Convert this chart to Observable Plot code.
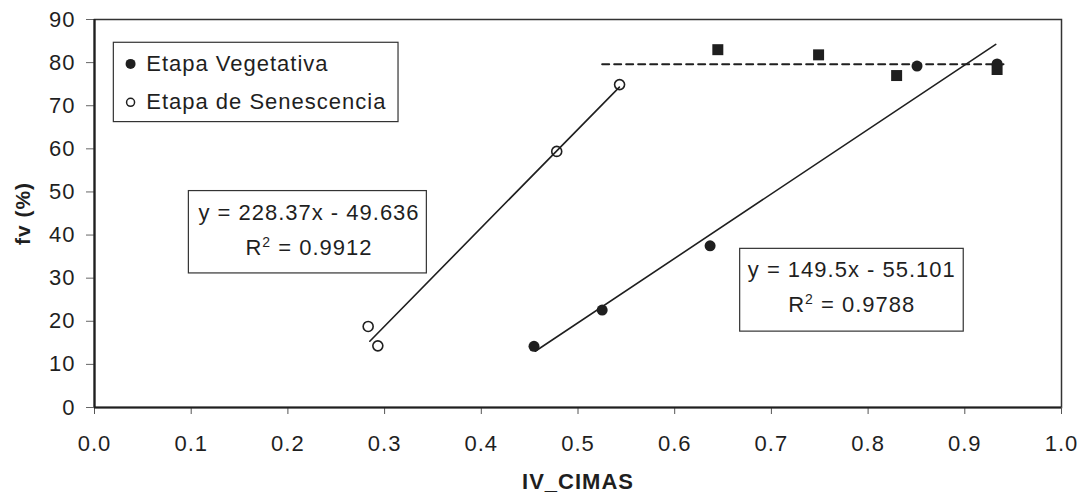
<!DOCTYPE html>
<html><head><meta charset="utf-8">
<script src="https://cdn.jsdelivr.net/npm/d3@7"></script>
<script src="https://cdn.jsdelivr.net/npm/@observablehq/plot@0.6"></script>
<style>
html,body{margin:0;padding:0;background:#fff;}
#chart svg{display:block;}
</style>
</head><body><div id="chart"></div>
<script>
// ---- data ----
const vegX = [0.4545, 0.525, 0.6366, 0.8506, 0.9334];
const vegY = [14.2, 22.6, 37.5, 79.2, 79.7];
const senX = [0.283, 0.293, 0.478, 0.543];
const senY = [18.8, 14.3, 59.4, 74.9];
const sqX = [0.6446, 0.7488, 0.8295, 0.9334];
const sqY = [83.0, 81.8, 77.0, 78.4];
const seriesNames = ["Etapa Vegetativa", "Etapa de Senescencia"];
const trendSlope = [149.5, 228.37];
const trendIntercept = [-55.101, -49.636];
const trendR2 = ["0.9788", "0.9912"];
const trendXStart = [0.4558, 0.2847];
const trendXEnd = [0.932, 0.5428];
const plateauY = 79.6;
const plateauXStart = 0.525;
const plateauXEnd = 0.94;
const xTicks = [0, 0.1, 0.2, 0.3, 0.4, 0.5, 0.6, 0.7, 0.8, 0.9, 1.0];
const yTicks = [0, 10, 20, 30, 40, 50, 60, 70, 80, 90];
const xLabel = "IV_CIMAS";
const yLabel = "fv (%)";

// ---- annotation placement (data units) ----
const eqBoxX1 = [0.6677, 0.0976], eqBoxX2 = [0.8989, 0.3437];
const eqBoxY1 = [17.6, 31.1], eqBoxY2 = [36.8, 50.2];
const eqTextX = [0.7831, 0.2218], eqLine1Y = [31.9, 45.1], eqLine2Y = [23.7, 37.0];
const legBox = {x1: 0.020, x2: 0.3144, y1: 66.2, y2: 84.6};
const legMarkX = 0.0373, legTextX = 0.0535, legY = [79.7, 70.8];

// ---- build tables ----
const veg = vegX.map((x, i) => ({x, y: vegY[i]}));
const sen = senX.map((x, i) => ({x, y: senY[i]}));
const sq = sqX.map((x, i) => ({x, y: sqY[i]}));
const trends = trendSlope.map((m, i) => [
  {s: i, x: trendXStart[i], y: m * trendXStart[i] + trendIntercept[i]},
  {s: i, x: trendXEnd[i], y: m * trendXEnd[i] + trendIntercept[i]}
]).flat();
const plateau = [{x: plateauXStart, y: plateauY}, {x: plateauXEnd, y: plateauY}];
const eqs = trendSlope.map((m, i) => ({
  x1: eqBoxX1[i], x2: eqBoxX2[i], y1: eqBoxY1[i], y2: eqBoxY2[i],
  tx: eqTextX[i], l1: eqLine1Y[i], l2: eqLine2Y[i],
  t1: `y = ${m}x - ${Math.abs(trendIntercept[i])}`,
  t2: `R2 = ${trendR2[i]}`
}));

const ink = "#1f1f1f";
const FS = 22;

const chart = Plot.plot({
  width: 1087,
  height: 502,
  marginLeft: 94,
  marginRight: 26,
  marginTop: 19,
  marginBottom: 95,
  style: {fontFamily: "'Liberation Sans', Arial, sans-serif", background: "#fff", color: ink, letterSpacing: "1px"},
  x: {domain: [0, 1]},
  y: {domain: [0, 90]},
  marks: [
    Plot.frame({stroke: "#333", strokeWidth: 1.5}),
    Plot.axisX({ticks: xTicks, tickFormat: d3.format(".1f"), tickSize: 7, tickPadding: 21, fontSize: FS, stroke: "#555", fill: ink, label: null}),
    Plot.axisY({ticks: yTicks, tickSize: 8, tickPadding: 11, fontSize: FS, stroke: "#666", fill: ink, label: null}),
    Plot.ruleX([0], {stroke: ink, strokeWidth: 2.2}),
    Plot.ruleY([0], {stroke: ink, strokeWidth: 2.2}),
    // equation boxes
    Plot.rect(eqs, {x1: "x1", x2: "x2", y1: "y1", y2: "y2", fill: "#fff", stroke: "#333", strokeWidth: 1.2}),
    Plot.text(eqs, {x: "tx", y: "l1", text: "t1", fontSize: FS, fill: ink, lineAnchor: "middle"}),
    Plot.text(eqs, {x: "tx", y: "l2", text: "t2", fontSize: FS, fill: ink, lineAnchor: "middle", className: "r2"}),
    // legend
    Plot.rect([legBox], {x1: "x1", x2: "x2", y1: "y1", y2: "y2", fill: "#fff", stroke: "#333", strokeWidth: 1.2}),
    Plot.dot([0], {x: legMarkX, y: legY[0], r: 5, fill: ink, stroke: "none"}),
    Plot.dot([0], {x: legMarkX, y: legY[1], r: 4, fill: "none", stroke: ink, strokeWidth: 1.5}),
    Plot.text(seriesNames, {x: legTextX, y: (d, i) => legY[i], text: d => d, textAnchor: "start", lineAnchor: "middle", fontSize: FS, fill: ink}),
    // trend lines
    Plot.line(trends, {x: "x", y: "y", z: "s", stroke: ink, strokeWidth: 1.6}),
    Plot.line(plateau, {x: "x", y: "y", stroke: ink, strokeWidth: 2, strokeDasharray: "7,5"}),
    // points
    Plot.dot(sq, {x: "x", y: "y", symbol: "square", r: 6.2, fill: ink, stroke: "none"}),
    Plot.dot(veg, {x: "x", y: "y", r: 5.5, fill: ink, stroke: "none"}),
    Plot.dot(sen, {x: "x", y: "y", r: 5, fill: "none", stroke: ink, strokeWidth: 1.6}),
    // axis titles
    Plot.text([xLabel], {frameAnchor: "bottom", dy: 74, text: d => d, fontSize: FS, fontWeight: "bold", fill: ink, lineAnchor: "middle"}),
    Plot.text([yLabel], {frameAnchor: "left", dx: -71, rotate: -90, text: d => d, fontSize: 21, fontWeight: "bold", fill: ink, textAnchor: "middle", lineAnchor: "middle"})
  ]
});

// turn "R2" into R with a superscript 2
d3.select(chart).selectAll("g.r2 text").each(function() {
  const t = d3.select(this);
  const s = t.text();
  const rest = s.slice(2);
  t.text(null);
  t.append("tspan").text("R");
  t.append("tspan").attr("font-size", 14).attr("dy", -8).text("2");
  t.append("tspan").attr("dy", 8).text(rest);
});
document.getElementById("chart").appendChild(chart);
</script>
</body></html>
